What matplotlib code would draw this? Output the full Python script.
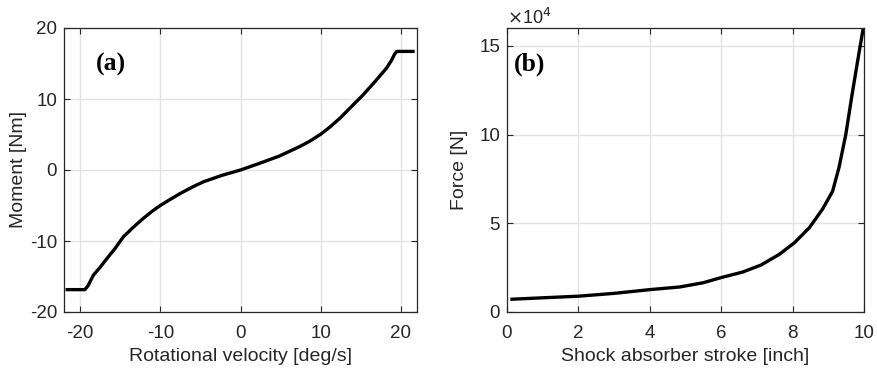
import matplotlib.pyplot as plt
import numpy as np

plt.rcParams['font.family'] = ['Liberation Sans', 'DejaVu Sans']
plt.rcParams['axes.unicode_minus'] = False

# (a) moment vs rotational velocity
vel = [-21.6, -19.4, -19.0, -18.6, -18.33, -17.5, -16.67, -15.6, -14.6, -13.3, -12.1,
       -11.0, -10.0, -8.7, -7.5, -6.0, -4.6, -2.3, 0.0,
       2.375, 4.875, 7.375, 8.7, 10.0, 11.2, 12.4, 13.8, 15.3, 16.8, 18.2,
       18.8, 19.2, 19.46, 21.5]
moment = [-16.85, -16.85, -16.3, -15.4, -14.8, -13.7, -12.5, -11.0, -9.4, -8.0, -6.8,
          -5.8, -5.0, -4.1, -3.3, -2.4, -1.65, -0.75, 0.0,
          0.94, 1.98, 3.3, 4.1, 5.04, 6.1, 7.3, 8.9, 10.6, 12.5, 14.35,
          15.4, 16.3, 16.7, 16.7]

# (b) force vs stroke (x1e4 N)
stroke = [0.14, 1.0, 2.0, 3.0, 4.0, 4.84, 5.5, 6.0, 6.6, 7.12, 7.63, 8.05, 8.47, 8.84,
          9.12, 9.3, 9.49, 9.67, 9.86, 9.98]
force = [0.72, 0.8, 0.89, 1.05, 1.26, 1.41, 1.65, 1.94, 2.25, 2.65, 3.25, 3.9, 4.75, 5.8,
         6.8, 8.14, 10.0, 12.3, 14.6, 16.0]

fig = plt.figure(figsize=(8.77, 3.71), dpi=100)
ax1 = fig.add_axes([64/877, 59/371, 353/877, 284/371])
ax2 = fig.add_axes([507/877, 59/371, 357/877, 284/371])

txt = '#262626'


def style(ax):
    ax.grid(True, color='#e3e3e3', linewidth=1.0)
    ax.set_axisbelow(True)
    ax.tick_params(direction='in', top=True, right=True, labelsize=13.5,
                   length=4, width=0.8, colors=txt)
    ax.tick_params(axis='x', pad=9)
    ax.tick_params(axis='y', pad=5)
    for s in ax.spines.values():
        s.set_color(txt)
        s.set_linewidth(0.9)


ax1.plot(vel, moment, color='black', lw=2.4, solid_joinstyle='round')
ax1.set_xlim(-22, 22)
ax1.set_ylim(-20, 20)
ax1.set_xticks([-20, -10, 0, 10, 20])
ax1.set_yticks([-20, -10, 0, 10, 20])
ax1.set_xlabel('Rotational velocity [deg/s]', fontsize=14, color=txt, labelpad=5)
ax1.set_ylabel('Moment [Nm]', fontsize=14, color=txt, labelpad=2)
ax1.text(0.09, 0.85, '(a)', transform=ax1.transAxes, fontsize=18.5,
         fontweight='bold', family='Liberation Serif')
style(ax1)

ax2.plot(stroke, force, color='black', lw=2.4, solid_joinstyle='round')
ax2.set_xlim(0, 10)
ax2.set_ylim(0, 16)
ax2.set_xticks([0, 2, 4, 6, 8, 10])
ax2.set_yticks([0, 5, 10, 15])
ax2.set_xlabel('Shock absorber stroke [inch]', fontsize=14, color=txt, labelpad=5)
ax2.set_ylabel('Force [N]', fontsize=14, color=txt, labelpad=8)
ax2.text(0.02, 0.85, '(b)', transform=ax2.transAxes, fontsize=18.5,
         fontweight='bold', family='Liberation Serif')
ax2.text(0.0, 1.0, r'$\times$10$^4$', transform=ax2.transAxes, fontsize=13,
         color=txt, va='bottom', ha='left')
style(ax2)

fig.savefig('out.png', dpi=100)
